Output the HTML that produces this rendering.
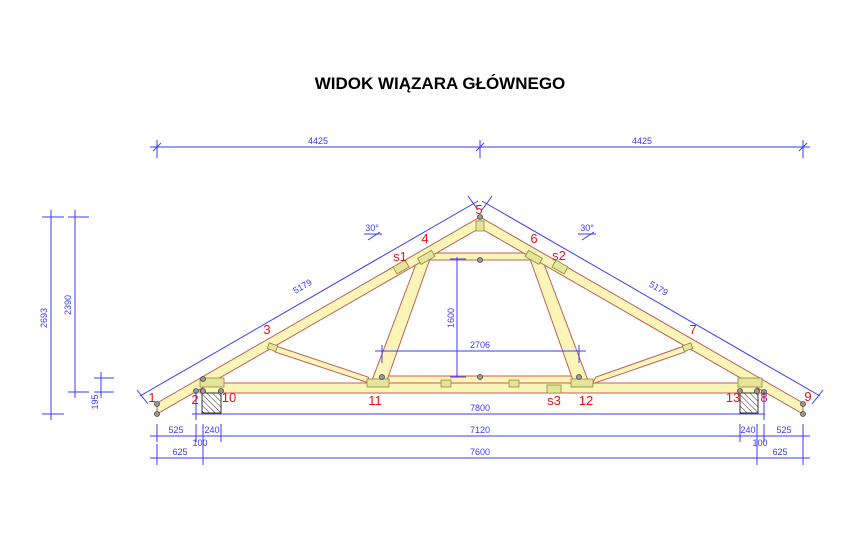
<!DOCTYPE html>
<html><head><meta charset="utf-8"><style>
html,body{margin:0;padding:0;background:#fff;}
svg{display:block;}
.d{stroke:#3b3bff;stroke-width:1;fill:none;}
.t{font-family:"Liberation Sans",sans-serif;font-size:9px;fill:#3b3bff;}
.r{font-family:"Liberation Sans",sans-serif;font-size:13px;fill:#e8111a;}
.w{fill:#fbf5b8;stroke:#c0605a;stroke-width:1;}
.p{fill:#e6e39a;stroke:#8a8a3a;stroke-width:0.8;}
.n{fill:#999;stroke:#444;stroke-width:0.8;}
</style></head><body>
<svg width="868" height="548" viewBox="0 0 868 548" xmlns="http://www.w3.org/2000/svg">
<text x="440" y="89" text-anchor="middle" font-family="Liberation Sans,sans-serif" font-weight="bold" font-size="17" fill="#000">WIDOK WIĄZARA GŁÓWNEGO</text>

<!-- top dims -->
<line class="d" x1="150" y1="147" x2="810" y2="147"/>
<line class="d" x1="157" y1="140" x2="157" y2="158"/>
<line class="d" x1="480" y1="140" x2="480" y2="158"/>
<line class="d" x1="803" y1="140" x2="803" y2="158"/>
<line class="d" x1="153" y1="151" x2="161" y2="143"/>
<line class="d" x1="476" y1="151" x2="484" y2="143"/>
<line class="d" x1="799" y1="151" x2="807" y2="143"/>
<text class="t" x="318" y="144" text-anchor="middle">4425</text>
<text class="t" x="642" y="144" text-anchor="middle">4425</text>

<!-- left vertical dims -->
<line class="d" x1="51" y1="210" x2="51" y2="420"/>
<line class="d" x1="42" y1="217" x2="64" y2="217"/>
<line class="d" x1="42" y1="414" x2="64" y2="414"/>
<line class="d" x1="75" y1="210" x2="75" y2="398"/>
<line class="d" x1="68" y1="217" x2="89" y2="217"/>
<line class="d" x1="68" y1="392" x2="89" y2="392"/>
<line class="d" x1="101" y1="372" x2="101" y2="398"/>
<line class="d" x1="94" y1="378" x2="114" y2="378"/>
<line class="d" x1="94" y1="392" x2="114" y2="392"/>
<text class="t" transform="translate(47,318) rotate(-90)" text-anchor="middle">2693</text>
<text class="t" transform="translate(71,305) rotate(-90)" text-anchor="middle">2390</text>
<text class="t" transform="translate(98,402) rotate(-90)" text-anchor="middle">195</text>

<!-- sloped dims -->
<line class="d" x1="140" y1="396" x2="478" y2="201"/>
<line class="d" x1="482" y1="201" x2="820" y2="396"/>
<line class="d" x1="137" y1="390" x2="148" y2="404"/>
<line class="d" x1="468" y1="196" x2="478" y2="210"/>
<line class="d" x1="492" y1="196" x2="482" y2="210"/>
<line class="d" x1="823" y1="390" x2="812" y2="404"/>
<text class="t" transform="translate(304,289) rotate(-30)" text-anchor="middle">5179</text>
<text class="t" transform="translate(657,291) rotate(30)" text-anchor="middle">5179</text>
<text class="t" x="372" y="231" text-anchor="middle">30°</text>
<line class="d" x1="364" y1="234" x2="382" y2="234"/><line class="d" x1="368" y1="240" x2="380" y2="232"/>
<text class="t" x="587" y="231" text-anchor="middle">30°</text>
<line class="d" x1="578" y1="234" x2="596" y2="234"/><line class="d" x1="582" y1="240" x2="594" y2="232"/>

<!-- bottom chord & members -->
<rect class="w" x="200" y="383" width="562" height="10"/>
<rect class="w" x="378" y="376" width="204" height="7"/>
<rect class="w" x="422" y="253" width="118" height="7"/>
<polygon class="w" points="419,256 431,256 386,383 371,383"/>
<polygon class="w" points="529,256 541,256 589,383 574,383"/>
<polygon class="w" points="270,344 275,352 372,384 368,377"/>
<polygon class="w" points="690,344 685,352 592,384 596,377"/>
<polygon class="w" points="157,403 480,217 803,403 803,414 480,228 157,414"/>

<!-- plates -->
<g class="p">
<rect x="200" y="378" width="24" height="9"/>
<rect x="738" y="378" width="24" height="9"/>
<rect x="367" y="379" width="22" height="8"/>
<rect x="571" y="379" width="22" height="8"/>
<rect x="441" y="380" width="10" height="7"/>
<rect x="509" y="380" width="10" height="7"/>
<rect x="547" y="385" width="14" height="8"/>
<rect x="476" y="221" width="8" height="10"/>
<rect x="394" y="263" width="14" height="8" transform="rotate(-30 401 267)"/>
<rect x="418" y="254" width="16" height="7" transform="rotate(-30 426 257)"/>
<rect x="526" y="254" width="16" height="7" transform="rotate(30 534 257)"/>
<rect x="553" y="263" width="14" height="8" transform="rotate(30 560 267)"/>
<rect x="268" y="344" width="9" height="6" transform="rotate(20 272 347)"/>
<rect x="683" y="344" width="9" height="6" transform="rotate(-20 688 347)"/>
</g>

<!-- walls -->
<defs><pattern id="h" width="4" height="4" patternUnits="userSpaceOnUse" patternTransform="rotate(-45)"><line x1="0" y1="0" x2="0" y2="4" stroke="#333" stroke-width="1"/></pattern></defs>
<rect x="202" y="393" width="19" height="20" fill="url(#h)" stroke="#333"/>
<rect x="740" y="393" width="18" height="20" fill="url(#h)" stroke="#333"/>

<!-- nodes -->
<g class="n">
<circle cx="157" cy="404" r="2.5"/><circle cx="157" cy="414" r="2.5"/>
<circle cx="196" cy="391" r="2.5"/><circle cx="203" cy="379" r="2.5"/><circle cx="203" cy="391" r="2.5"/><circle cx="221" cy="391" r="2.5"/>
<circle cx="480" cy="217" r="2.5"/><circle cx="480" cy="260" r="2.5"/><circle cx="480" cy="377" r="2.5"/>
<circle cx="382" cy="377" r="2.5"/><circle cx="579" cy="377" r="2.5"/>
<circle cx="740" cy="391" r="2.5"/><circle cx="757" cy="391" r="2.5"/><circle cx="764" cy="392" r="2.5"/>
<circle cx="803" cy="404" r="2.5"/><circle cx="803" cy="414" r="2.5"/>
</g>

<!-- inner dims -->
<line class="d" x1="457" y1="257" x2="457" y2="377"/>
<line class="d" x1="450" y1="259" x2="466" y2="259"/>
<line class="d" x1="450" y1="377" x2="466" y2="377"/>
<text class="t" transform="translate(454,318) rotate(-90)" text-anchor="middle">1600</text>
<line class="d" x1="375" y1="351" x2="586" y2="351"/>
<line class="d" x1="382" y1="345" x2="382" y2="363"/>
<line class="d" x1="579" y1="345" x2="579" y2="363"/>
<text class="t" x="480" y="348" text-anchor="middle">2706</text>

<!-- bottom dims -->
<line class="d" x1="192" y1="414" x2="765" y2="414"/>
<line class="d" x1="196" y1="392" x2="196" y2="420"/>
<line class="d" x1="764" y1="392" x2="764" y2="420"/>
<text class="t" x="480" y="411" text-anchor="middle">7800</text>
<line class="d" x1="150" y1="436" x2="810" y2="436"/>
<line class="d" x1="157" y1="424" x2="157" y2="442"/>
<line class="d" x1="196" y1="424" x2="196" y2="442"/>
<line class="d" x1="203" y1="424" x2="203" y2="465"/>
<line class="d" x1="221" y1="424" x2="221" y2="442"/>
<line class="d" x1="740" y1="424" x2="740" y2="442"/>
<line class="d" x1="757" y1="424" x2="757" y2="465"/>
<line class="d" x1="764" y1="424" x2="764" y2="442"/>
<line class="d" x1="803" y1="424" x2="803" y2="465"/>
<line class="d" x1="157" y1="444" x2="157" y2="465"/>
<text class="t" x="176" y="433" text-anchor="middle">525</text>
<text class="t" x="212" y="433" text-anchor="middle">240</text>
<text class="t" x="480" y="433" text-anchor="middle">7120</text>
<text class="t" x="748" y="433" text-anchor="middle">240</text>
<text class="t" x="784" y="433" text-anchor="middle">525</text>
<text class="t" x="200" y="446" text-anchor="middle">100</text>
<text class="t" x="760" y="446" text-anchor="middle">100</text>
<line class="d" x1="150" y1="458" x2="810" y2="458"/>
<text class="t" x="180" y="455" text-anchor="middle">625</text>
<text class="t" x="480" y="455" text-anchor="middle">7600</text>
<text class="t" x="780" y="455" text-anchor="middle">625</text>

<!-- labels -->
<text class="r" x="152" y="402" text-anchor="middle">1</text>
<text class="r" x="195" y="404" text-anchor="middle">2</text>
<text class="r" x="229" y="402" text-anchor="middle">10</text>
<text class="r" x="267" y="334" text-anchor="middle">3</text>
<text class="r" x="400" y="261" text-anchor="middle">s1</text>
<text class="r" x="425" y="243" text-anchor="middle">4</text>
<text class="r" x="479" y="214" text-anchor="middle">5</text>
<text class="r" x="534" y="243" text-anchor="middle">6</text>
<text class="r" x="559" y="260" text-anchor="middle">s2</text>
<text class="r" x="693" y="334" text-anchor="middle">7</text>
<text class="r" x="375" y="405" text-anchor="middle">11</text>
<text class="r" x="554" y="405" text-anchor="middle">s3</text>
<text class="r" x="586" y="405" text-anchor="middle">12</text>
<text class="r" x="733" y="402" text-anchor="middle">13</text>
<text class="r" x="764" y="402" text-anchor="middle">8</text>
<text class="r" x="808" y="401" text-anchor="middle">9</text>
</svg>
</body></html>
